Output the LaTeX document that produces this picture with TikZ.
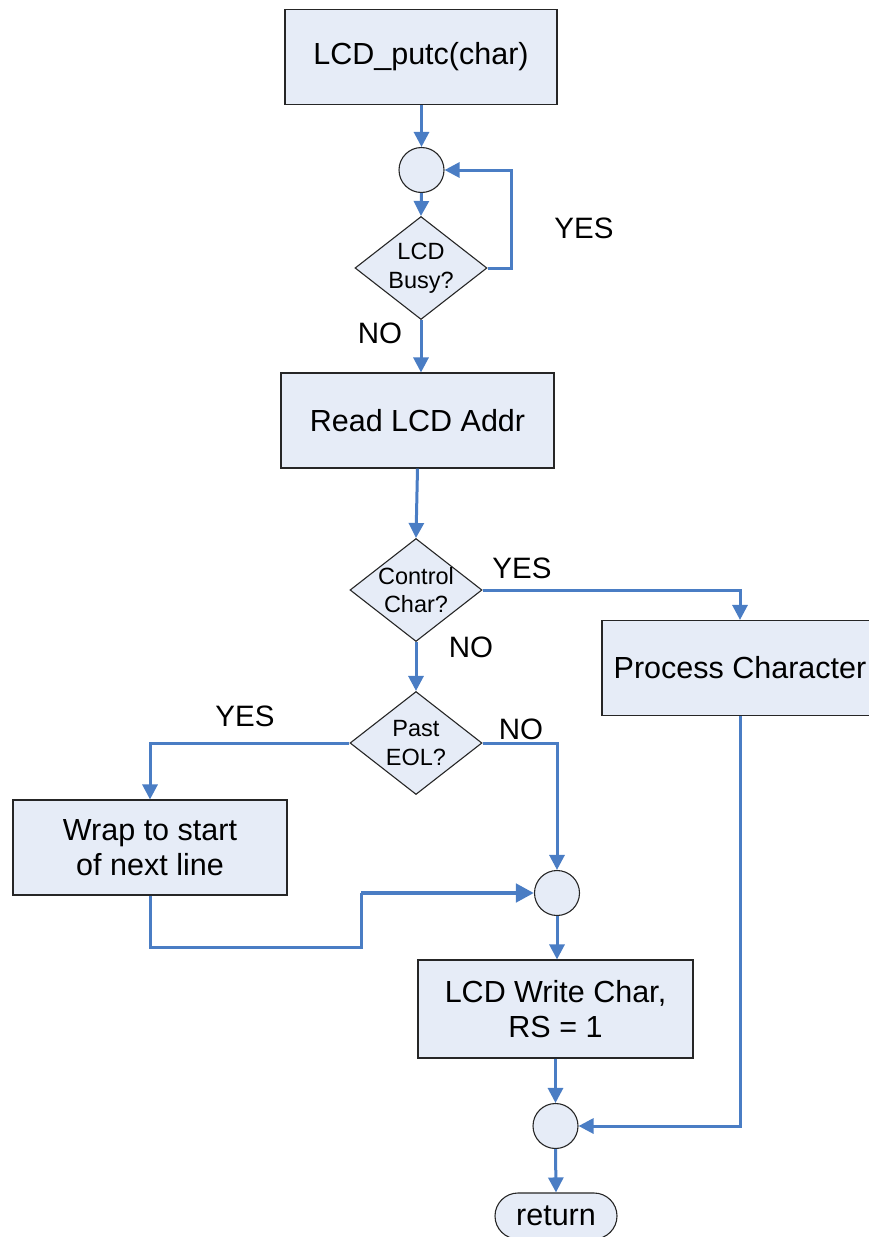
\documentclass[tikz,border=0pt]{standalone}
\usepackage{fontspec}
\setmainfont{Liberation Sans}
\usetikzlibrary{arrows.meta,shapes.geometric,shapes.misc}
\definecolor{boxfill}{RGB}{230,236,247}
\definecolor{flowblue}{RGB}{74,125,196}
\begin{document}
\begin{tikzpicture}[x=1pt,y=-1pt,
  every node/.style={font=\fontsize{30.5}{35}\selectfont},
  procbox/.style={draw=black!85,line width=1.1pt,fill=boxfill,minimum width=273pt,minimum height=95pt,align=center,inner sep=0pt},
  decision/.style={draw=black!85,line width=1.1pt,fill=boxfill,diamond,minimum width=132pt,minimum height=103pt,inner sep=0pt},
  dectext/.style={font=\fontsize{23.5}{28.5}\selectfont,align=center},
  joint/.style={draw=black!85,line width=1.1pt,fill=boxfill,circle,minimum size=45pt,inner sep=0pt},
  term/.style={draw=black!85,line width=1.1pt,fill=boxfill,rounded rectangle,minimum width=122pt,minimum height=46pt,inner sep=0pt},
  flow/.style={draw=flowblue,line width=3pt,-{Triangle[length=15pt,width=15pt]}},
  flowthick/.style={draw=flowblue,line width=4.5pt,-{Triangle[length=18pt,width=18pt]}},
  lbl/.style={inner sep=0pt,font=\fontsize{29.5}{35}\selectfont}
]
\useasboundingbox (0,0) rectangle (868,1237);

% nodes
\node[procbox,minimum width=272pt] (putc) at (421,57) {LCD\_putc(char)};
\node[joint] (c1) at (421.5,170) {};
\node[decision,label={[dectext]center:{LCD\\Busy?}}] (busy) at (421,268) {};
\node[procbox] (read) at (417.5,420.5) {Read LCD Addr};
\node[decision,label={[dectext]center:{Control\\Char?}}] (ctrl) at (416,590) {};
\node[procbox,minimum width=276pt] (proc) at (740,668) {Process Character};
\node[decision,label={[dectext]center:{Past\\EOL?}}] (eol) at (416,743) {};
\node[procbox,minimum width=274pt] (wrap) at (150,847.5) {Wrap to start\\of next line};
\node[joint] (c2) at (557,893) {};
\node[procbox,minimum width=275pt,minimum height=98pt] (write) at (555.5,1009) {LCD Write Char,\\RS = 1};
\node[joint] (c3) at (555.5,1126) {};
\node[term] (ret) at (556,1216) {return};

% branch labels
\node[lbl] (yes1) at (584,228) {YES};
\node[lbl] (no1) at (380,333) {NO};
\node[lbl] (yes2) at (522,568) {YES};
\node[lbl] (no2) at (471,647) {NO};
\node[lbl] (yes3) at (245,716) {YES};
\node[lbl] (no3) at (521,729) {NO};

\coordinate (jog) at (361,893);

% connectors
\draw[flow] (putc.south -| c1) -- (c1.north);
\draw[flow] (c1.south) -- (busy.north);
\draw[flow] (busy.east) -- ++(24,0) |- (c1.east);
\draw[flow] (busy.south) -- (busy.south |- read.north);
\draw[flow] (read.south) -- (ctrl.north);
\draw[flow] (ctrl.east) -| (proc.north);
\draw[flow] (ctrl.south) -- (eol.north);
\draw[flow] (eol.west) -| (wrap.north);
\draw[flow] (eol.east) -| (c2.north);
\draw[flow,-] (wrap.south) -- ++(0,52) -| (jog);
\draw[flowthick] (jog) -- (c2.west);
\draw[flow] (c2.south) -- (c2.south |- write.north);
\draw[flow] (write.south) -- (c3.north);
\draw[flow] (proc.south) |- (c3.east);
\draw[flow] (c3.south) -- (ret.north);
\end{tikzpicture}
\end{document}
